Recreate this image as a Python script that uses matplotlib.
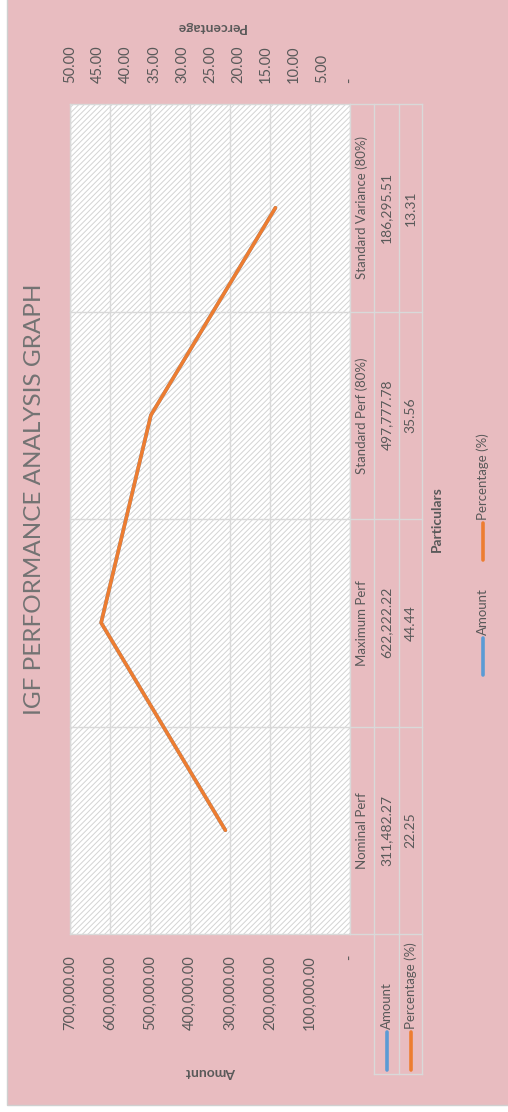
import matplotlib
matplotlib.use("Agg")
import matplotlib.pyplot as plt
from matplotlib.patches import Rectangle
from matplotlib.lines import Line2D

# ---- data ----
categories = ["Nominal Perf", "Maximum Perf", "Standard Perf (80%)", "Standard Variance (80%)"]
amount = [311482.27, 622222.22, 497777.78, 186295.51]
percentage = [22.25, 44.44, 35.56, 13.31]
amount_ticks = [0, 100000, 200000, 300000, 400000, 500000, 600000, 700000]
percent_ticks = [0, 5, 10, 15, 20, 25, 30, 35, 40, 45, 50]

# ---- style ----
W, H = 508, 1112
PINK = "#E8BCC0"
GRID = "#D9D9D9"
TXT = "#595959"
BLUE = "#5B9BD5"
ORANGE = "#ED7D31"
plt.rcParams["font.family"] = ["Lato", "DejaVu Sans"]
plt.rcParams["hatch.color"] = "#D3D3D3"
plt.rcParams["hatch.linewidth"] = 0.7


def fx(px):
    return px / W


def fy(py):
    return 1 - py / H


fig = plt.figure(figsize=(W / 100, H / 100), dpi=100)
fig.patch.set_facecolor("white")
fig.add_artist(Rectangle((fx(7), fy(1105)), 1, 1, transform=fig.transFigure,
                         facecolor=PINK, edgecolor="#D0D0D0", lw=1, zorder=0))

# plot area: categories run upward, values grow to the left
L, R, T, B = 70, 350, 104, 934
ax = fig.add_axes([fx(L), fy(B), fx(R - L), (B - T) / H])
ax.set_facecolor("white")
ax.add_patch(Rectangle((0, 0), 1, 1, transform=ax.transAxes, facecolor="white",
                       edgecolor="#D3D3D3", hatch="//////", lw=0, zorder=0))
n = len(categories)
ypos = [i + 0.5 for i in range(n)]
ax.set_ylim(0, n)
ax.set_xlim(max(amount_ticks), 0)
ax.set_yticks([])
ax.set_xticks(amount_ticks)
ax.set_xticklabels(["-" if v == 0 else f"{v:,.2f}" for v in amount_ticks])
ax.tick_params(axis="x", length=0, pad=15, labelrotation=90, labelsize=10.5, colors=TXT)
ax.grid(axis="x", color=GRID, lw=1)
for s in ax.spines.values():
    s.set_color(GRID)
    s.set_linewidth(1)

tab_x = [1.0, 374 - L, 399 - L, 422 - L]
tab_x = [tab_x[0]] + [v / (R - L) for v in tab_x[1:]]
hdr_y = -(1074 - B) / (B - T)

# category separators, carried through the data table
for b in range(1, n):
    ax.axhline(b, xmin=0, xmax=tab_x[-1], color=GRID, lw=1, clip_on=False)
for yy in (0, 1):
    ax.add_line(Line2D([1, tab_x[-1]], [yy, yy], transform=ax.transAxes,
                       color=GRID, lw=1, clip_on=False))
ax.add_line(Line2D([tab_x[1], tab_x[-1]], [hdr_y, hdr_y], transform=ax.transAxes,
                   color=GRID, lw=1, clip_on=False))
for xx in tab_x[1:]:
    ax.add_line(Line2D([xx, xx], [hdr_y, 1], transform=ax.transAxes,
                       color=GRID, lw=1, clip_on=False))

ax.plot(amount, ypos, color=BLUE, lw=2.6, solid_capstyle="round", zorder=3)

ax2 = ax.twiny()
ax2.set_xlim(max(percent_ticks), 0)
ax2.set_xticks(percent_ticks)
ax2.set_xticklabels(["-" if v == 0 else f"{v:.2f}" for v in percent_ticks])
ax2.tick_params(axis="x", length=0, pad=15, labelrotation=90, labelsize=10.5, colors=TXT)
for s in ax2.spines.values():
    s.set_visible(False)
ax2.plot(percentage, ypos, color=ORANGE, lw=2.6, solid_capstyle="round", zorder=3)

# data table
col_c = [(tab_x[i] + tab_x[i + 1]) / 2 for i in range(3)]
for i in range(n):
    yc = (i + 0.5) / n
    ax.text(col_c[0], yc, categories[i], transform=ax.transAxes, rotation=90,
            ha="center", va="center", fontsize=9.5, color=TXT, clip_on=False)
    ax.text(col_c[1], yc, f"{amount[i]:,.2f}", transform=ax.transAxes, rotation=90,
            ha="center", va="center", fontsize=10, color=TXT, clip_on=False)
    ax.text(col_c[2], yc, f"{percentage[i]:.2f}", transform=ax.transAxes, rotation=90,
            ha="center", va="center", fontsize=10, color=TXT, clip_on=False)


def ay(py):
    return (B - py) / (B - T)


for col, name, color in ((col_c[1], "Amount", BLUE), (col_c[2], "Percentage (%)", ORANGE)):
    ax.add_line(Line2D([col, col], [ay(1032), ay(1070)], transform=ax.transAxes,
                       color=color, lw=2.6, solid_capstyle="round", clip_on=False))
    ax.text(col, ay(1029), name, transform=ax.transAxes, rotation=90, ha="center",
            va="bottom", fontsize=9.5, color=TXT, clip_on=False)

# axis titles and chart title
fig.text(fx(211), fy(1072), "Amount", rotation=180, ha="center", va="center",
         fontsize=10, weight="bold", color=TXT)
fig.text(fx(211), fy(27), "Percentage", rotation=180, ha="center", va="center",
         fontsize=10, weight="bold", color=TXT)
fig.text(fx(437), fy(519), "Particulars", rotation=90, ha="center", va="center",
         fontsize=10, weight="bold", color=TXT)
fig.text(fx(35), fy(499), "IGF PERFORMANCE ANALYSIS GRAPH", rotation=90, ha="center",
         va="center", fontsize=17.5, weight="normal", color="#737373")

# legend
for (y0, y1, ty, name, color) in ((675, 638, 635, "Amount", BLUE),
                                  (560, 523, 520, "Percentage (%)", ORANGE)):
    fig.add_artist(Line2D([fx(483), fx(483)], [fy(y0), fy(y1)], transform=fig.transFigure,
                          color=color, lw=2.6, solid_capstyle="round"))
    fig.text(fx(483), fy(ty), name, rotation=90, ha="center", va="bottom",
             fontsize=9.5, color=TXT)

fig.savefig("out.png", dpi=100, facecolor=fig.get_facecolor())
